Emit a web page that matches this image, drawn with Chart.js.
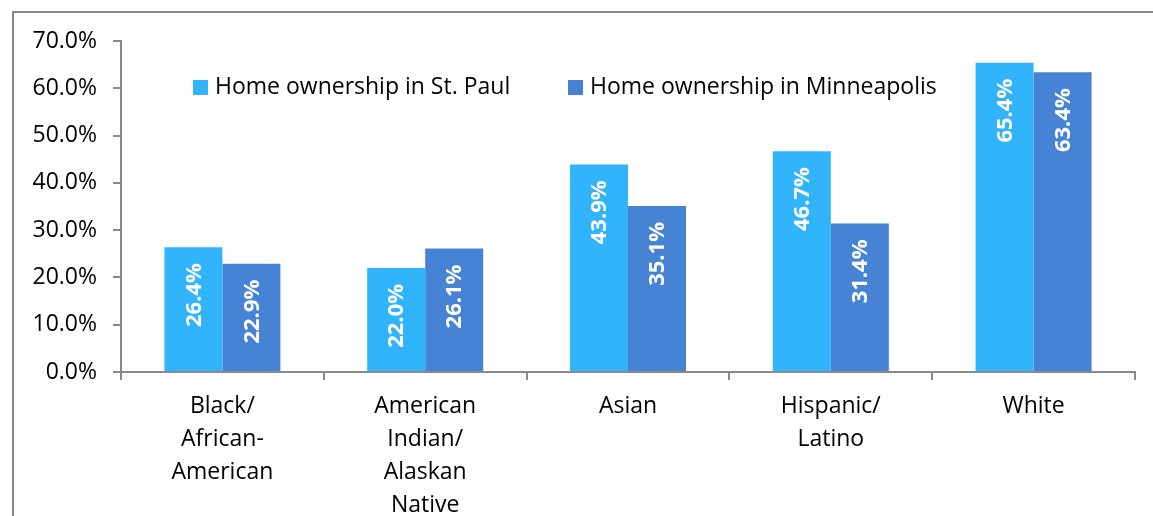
<!DOCTYPE html>
<html>
<head>
<meta charset="utf-8">
<script src="https://cdn.jsdelivr.net/npm/chart.js@4"></script>
<style>
  html, body { margin: 0; padding: 0; background: #fff; overflow: hidden; }
  #frame { position: absolute; left: 12px; top: 11px; width: 1200px; height: 600px; border: 2px solid #8a8a8a; }
  #chart { position: absolute; left: 0; top: 0; }
</style>
</head>
<body>
<div id="frame"></div>
<canvas id="chart" width="1153" height="516"></canvas>
<script>
const categories = [
    ['Black/', 'African-', 'American'],
    ['American', 'Indian/', 'Alaskan', 'Native'],
    ['Asian'],
    ['Hispanic/', 'Latino'],
    ['White']
];
const stPaul = [26.4, 22.0, 43.9, 46.7, 65.4];
const minneapolis = [22.9, 26.1, 35.1, 31.4, 63.4];
const seriesNames = ['Home ownership in St. Paul', 'Home ownership in Minneapolis'];
const yTicks = [0, 10, 20, 30, 40, 50, 60, 70];

const FONT = '"Open Sans", "DejaVu Sans", sans-serif';
const AXIS = '#8a8a8a';

// white rotated value labels, near the top inside each bar
const barLabels = {
    id: 'barLabels',
    afterDatasetsDraw(chart) {
        const ctx = chart.ctx;
        ctx.save();
        ctx.fillStyle = '#fff';
        ctx.font = 'bold 22px ' + FONT;
        ctx.textAlign = 'right';
        ctx.textBaseline = 'middle';
        chart.data.datasets.forEach((ds, i) => {
            chart.getDatasetMeta(i).data.forEach((bar, j) => {
                ctx.save();
                ctx.translate(bar.x, bar.y + 16);
                ctx.rotate(-Math.PI / 2);
                ctx.fillText(ds.data[j].toFixed(1) + '%', 0, 1);
                ctx.restore();
            });
        });
        ctx.restore();
    }
};

// legend sits inside the plot area, like the original
const innerLegend = {
    id: 'innerLegend',
    afterDraw(chart) {
        const ctx = chart.ctx;
        const pos = [193, 568];
        ctx.save();
        ctx.font = '23px ' + FONT;
        ctx.textBaseline = 'middle';
        ctx.textAlign = 'left';
        chart.data.datasets.forEach((ds, i) => {
            ctx.fillStyle = ds.backgroundColor;
            ctx.fillRect(pos[i], 80, 15, 15);
            ctx.fillStyle = '#000';
            ctx.fillText(ds.label, pos[i] + 22, 87);
        });
        ctx.restore();
    }
};

new Chart(document.getElementById('chart'), {
    type: 'bar',
    data: {
        labels: categories,
        datasets: [
            { label: seriesNames[0], data: stPaul, backgroundColor: '#32b4fc' },
            { label: seriesNames[1], data: minneapolis, backgroundColor: '#4783d4' }
        ]
    },
    options: {
        responsive: false,
        animation: false,
        devicePixelRatio: 1,
        layout: { padding: { left: 0, right: 18, top: 41, bottom: 0 } },
        datasets: { bar: { categoryPercentage: 0.572, barPercentage: 1.0 } },
        plugins: {
            legend: { display: false },
            tooltip: { enabled: false }
        },
        scales: {
            x: {
                grid: {
                    offset: true,
                    drawOnChartArea: false,
                    color: AXIS,
                    lineWidth: 2,
                    tickLength: 8
                },
                border: { color: AXIS, width: 2 },
                ticks: {
                    color: '#000',
                    font: { family: FONT, size: 23, lineHeight: 1.43 },
                    padding: 10,
                    maxRotation: 0,
                    autoSkip: false
                },
                afterFit(scale) { scale.height = 144; }
            },
            y: {
                min: 0,
                max: 70,
                afterBuildTicks(scale) { scale.ticks = yTicks.map(v => ({ value: v })); },
                grid: {
                    drawOnChartArea: false,
                    color: AXIS,
                    lineWidth: 2,
                    tickLength: 8
                },
                border: { color: AXIS, width: 2 },
                ticks: {
                    color: '#000',
                    font: { family: FONT, size: 23 },
                    padding: 16,
                    callback: v => v.toFixed(1) + '%'
                },
                afterFit(scale) { scale.width = 121; }
            }
        }
    },
    plugins: [barLabels, innerLegend]
});
</script>
</body>
</html>
